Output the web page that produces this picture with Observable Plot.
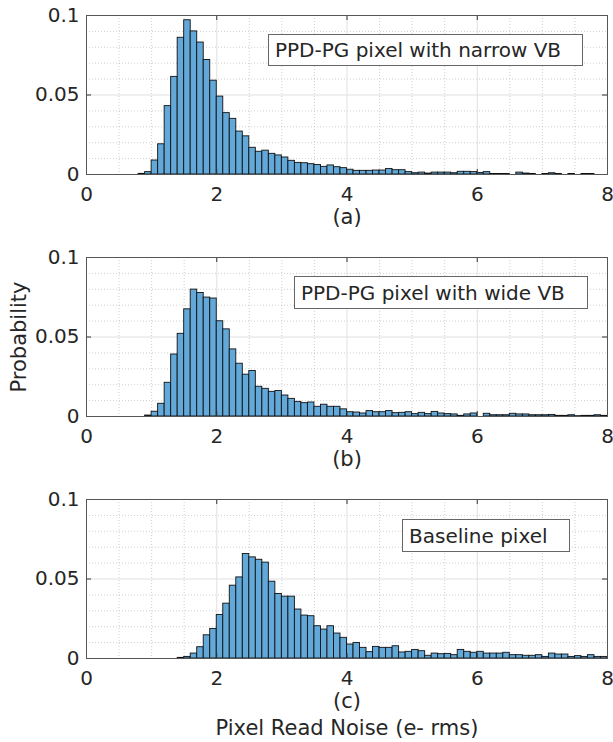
<!DOCTYPE html>
<html><head><meta charset="utf-8">
<script src="https://cdn.jsdelivr.net/npm/d3@7"></script>
<script src="https://cdn.jsdelivr.net/npm/@observablehq/plot@0.6"></script>
<style>
body{margin:0;background:#fff;font-family:"DejaVu Sans",sans-serif;}
#wrap{position:relative;width:613px;height:742px;}
#wrap svg{display:block}
.box{position:absolute;border:1px solid #666;background:#fff;font-size:20px;color:#262626;box-sizing:border-box;padding-left:6px;display:flex;align-items:center;white-space:nowrap;font-family:"DejaVu Sans",sans-serif;}
</style></head><body><div id="wrap"></div>
<script>
// ---- data ----
const binWidth = 0.1;
const xTicks = [0, 2, 4, 6, 8];
const yTicks = [0, 0.05, 0.1];
const xMinorGrid = [0.5, 1, 1.5, 2.5, 3, 3.5, 4.5, 5, 5.5, 6.5, 7, 7.5];
const yMinorGrid = [0.01, 0.02, 0.03, 0.04, 0.06, 0.07, 0.08, 0.09];
const xMajorGrid = [2, 4, 6];
const yMajorGrid = [0.05];
const panelLabels = ["(a)", "(b)", "(c)"];
const legendTexts = ["PPD-PG pixel with narrow VB", "PPD-PG pixel with wide VB", "Baseline pixel"];
const xLabel = "Pixel Read Noise (e- rms)";
const yLabel = "Probability";

// probability per 0.1-wide bin, bins starting at 0.0, 0.1, ... 7.9
const narrowVB = [
  0,0,0,0,0,0,0,0,0.0004,0.0015,
  0.0088,0.019,0.043,0.0614,0.086,0.097,0.090,0.083,0.072,0.059,
  0.049,0.0386,0.035,0.027,0.024,0.0168,0.0143,0.015,0.013,0.012,
  0.0107,0.0086,0.0073,0.0071,0.0065,0.006,0.0048,0.0057,0.0046,0.0040,
  0.0030,0.0023,0.0023,0.0023,0.0025,0.0025,0.0035,0.0027,0.0027,0.0015,
  0.0008,0.0012,0.0006,0.0012,0.0012,0.0012,0.0008,0.0017,0.0017,0.0015,
  0.0010,0.0015,0.0003,0.0003,0.0003,0,0.0012,0.0006,0.0003,0,
  0.0003,0.0008,0.0003,0,0.0003,0,0.0003,0.0003,0,0
];
const wideVB = [
  0,0,0,0,0,0,0,0,0,0.0006,
  0.003,0.008,0.0212,0.039,0.052,0.0674,0.0798,0.0777,0.0748,0.0742,
  0.0599,0.0548,0.0422,0.0332,0.0263,0.0286,0.0187,0.0174,0.0155,0.016,
  0.0132,0.0111,0.0092,0.0084,0.0088,0.0061,0.0074,0.0061,0.0061,0.0045,
  0.0027,0.0025,0.0019,0.0034,0.0027,0.0027,0.0034,0.0021,0.0023,0.0027,
  0.0015,0.0023,0.0015,0.0029,0.0019,0.0015,0.0013,0.0004,0.0013,0.0019,
  0,0.0017,0.0008,0.0008,0.0008,0.0017,0.0013,0.0013,0.0008,0.0008,
  0.0008,0.001,0.0004,0.0004,0.0008,0.0002,0.0004,0.0004,0.0008,0.0004
];
const baselinePx = [
  0,0,0,0,0,0,0,0,0,0,
  0,0,0,0,0.0004,0.001,0.0031,0.0071,0.0146,0.0186,
  0.0274,0.0345,0.0458,0.051,0.0657,0.0636,0.0621,0.0603,0.0483,0.0406,
  0.0389,0.0389,0.0308,0.027,0.0266,0.0203,0.0182,0.0203,0.0157,0.013,
  0.0088,0.0098,0.0067,0.004,0.0073,0.0067,0.0067,0.0077,0.0038,0.0042,
  0.0054,0.0046,0.0017,0.0031,0.0027,0.0029,0.0021,0.0054,0.0042,0.0036,
  0.0042,0.0031,0.0031,0.0031,0.0036,0.0021,0.0021,0.0017,0.0017,0.0021,
  0.001,0.0031,0.0025,0.0025,0.001,0.0015,0.001,0.0021,0.001,0.001
];
const series = [narrowVB, wideVB, baselinePx];

// ---- layout ----
const W = 613, ML = 86, MR = 6, MT = 15, PH = 159;
const PW = W - ML - MR;
const svgHeights = [242, 242, 258];
const boxes = [
  {left: 268, top: 34, width: 315, height: 32},
  {left: 294, top: 276, width: 294, height: 33},
  {left: 402, top: 519, width: 168, height: 33}
];
const wrap = document.getElementById("wrap");

series.forEach((vals, k) => {
  const rows = vals.map((p, i) => ({x0: i * binWidth, x1: (i + 1) * binWidth, p})).filter(d => d.p > 0);
  const H = svgHeights[k];
  const marks = [
    Plot.ruleX(xMinorGrid, {stroke: "#c4c4c4", strokeDasharray: "1,2", strokeWidth: 0.8}),
    Plot.ruleY(yMinorGrid, {stroke: "#c4c4c4", strokeDasharray: "1,2", strokeWidth: 0.8}),
    Plot.ruleX(xMajorGrid, {stroke: "#e0e0e0"}),
    Plot.ruleY(yMajorGrid, {stroke: "#e0e0e0"}),
    Plot.rectY(rows, {x1: "x0", x2: "x1", y: "p", fill: "#62a8d8", stroke: "#111", strokeWidth: 0.9}),
    Plot.tickX(xTicks, {insetTop: PH - 5, stroke: "#333"}),
    Plot.tickX(xTicks, {insetBottom: PH - 5, stroke: "#333"}),
    Plot.tickY(yTicks, {insetRight: PW - 5, stroke: "#333"}),
    Plot.tickY(yTicks, {insetLeft: PW - 5, stroke: "#333"}),
    Plot.frame({stroke: "#555"}),
    Plot.text([panelLabels[k]], {text: d => d, frameAnchor: "bottom", dy: 43, lineAnchor: "middle", textAnchor: "middle", fontSize: 21, fill: "#262626"})
  ];
  if (k === 1) marks.push(Plot.text([yLabel], {text: d => d, frameAnchor: "left", dx: -67, rotate: -90, lineAnchor: "middle", textAnchor: "middle", fontSize: 21, fill: "#262626"}));
  if (k === 2) marks.push(Plot.text([xLabel], {text: d => d, frameAnchor: "bottom", dy: 70, lineAnchor: "middle", textAnchor: "middle", fontSize: 21, fill: "#262626"}));
  const chart = Plot.plot({
    width: W, height: H,
    marginLeft: ML, marginRight: MR, marginTop: MT, marginBottom: H - MT - PH,
    style: {fontFamily: "DejaVu Sans", fontSize: "20px", color: "#262626", background: "transparent", overflow: "visible"},
    x: {domain: [0, 8], ticks: xTicks, tickSize: 0, tickPadding: 12, label: null},
    y: {domain: [0, 0.1], ticks: yTicks, tickSize: 0, tickPadding: 7, tickFormat: d => String(d), label: null},
    marks
  });
  wrap.appendChild(chart);
});

boxes.forEach((b, k) => {
  const d = document.createElement("div");
  d.className = "box";
  d.style.left = b.left + "px"; d.style.top = b.top + "px";
  d.style.width = b.width + "px"; d.style.height = b.height + "px";
  d.textContent = legendTexts[k];
  wrap.appendChild(d);
});
</script></body></html>
